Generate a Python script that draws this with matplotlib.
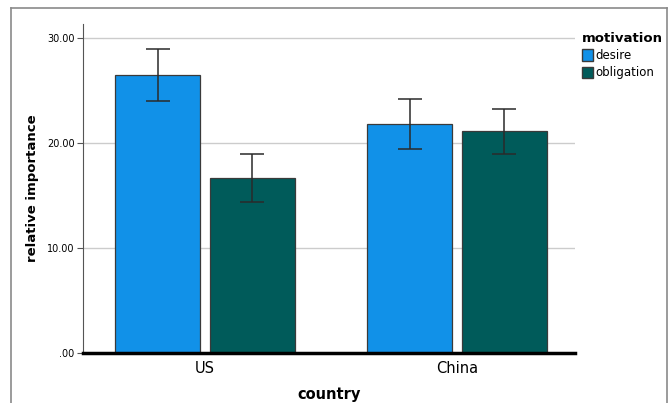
import numpy as np
import matplotlib
matplotlib.use('Agg')
from matplotlib import pyplot as plt
from matplotlib.patches import Patch
from matplotlib.lines import Line2D

plt.rcParams['font.family'] = ['DejaVu Sans']

countries = ['US', 'China']
motivations = ['desire', 'obligation']
means = {
    'desire': [26.5, 21.8],
    'obligation': [16.7, 21.1],
}
ci_low = {
    'desire': [24.0, 19.4],
    'obligation': [14.4, 18.95],
}
ci_high = {
    'desire': [28.95, 24.15],
    'obligation': [19.0, 23.25],
}
colors = {'desire': '#1191e8', 'obligation': '#005b5a'}
yticks = [0, 10, 20, 30]
ytick_labels = ['.00', '10.00', '20.00', '30.00']

fig = plt.figure(figsize=(6.69, 4.03), dpi=100)
ax = fig.add_axes([0.124, 0.124, 0.7355, 0.8164])

# outer frame
W, H = 669, 403
frame = dict(color='#8a8a8a', lw=1.2, transform=fig.transFigure, clip_on=False)
fig.add_artist(Line2D([11 / W, 11 / W], [0, 1 - 8 / H], **frame))
fig.add_artist(Line2D([11 / W, 667 / W], [1 - 8 / H, 1 - 8 / H], **frame))
fig.add_artist(Line2D([667 / W, 667 / W], [0, 1 - 8 / H], **frame))

x = np.arange(len(countries))
offsets = [-0.188, 0.188]
width = 0.335
for m, off in zip(motivations, offsets):
    vals = np.array(means[m])
    err = [vals - np.array(ci_low[m]), np.array(ci_high[m]) - vals]
    ax.bar(x + off, vals, width, color=colors[m], edgecolor='#3a3a3a',
           linewidth=0.9, zorder=2)
    ax.errorbar(x + off, vals, yerr=err, fmt='none', ecolor='#2a2a2a',
                elinewidth=1.1, capsize=8.5, capthick=1.1, zorder=3)

ax.set_xlim(-0.484, 1.468)
ax.set_ylim(0, 31.33)
ax.set_yticks(yticks)
ax.set_yticklabels(ytick_labels, fontsize=7)
ax.set_xticks(x)
ax.set_xticklabels(countries, fontsize=10.5)
ax.tick_params(axis='x', length=0, pad=6)
ax.tick_params(axis='y', length=4, width=0.8, color='#555555', pad=2)
ax.yaxis.grid(True, color='#cccccc', lw=1.0, zorder=0)
ax.set_axisbelow(True)

for s in ['top', 'right']:
    ax.spines[s].set_visible(False)
ax.spines['left'].set_color('#555555')
ax.spines['left'].set_linewidth(0.8)
ax.spines['bottom'].set_color('black')
ax.spines['bottom'].set_linewidth(2.5)
ax.spines['bottom'].set_zorder(4)

ax.set_ylabel('relative importance', fontsize=9.5, fontweight='bold', labelpad=6)
ax.set_xlabel('country', fontsize=10.5, fontweight='bold', labelpad=8)

handles = [Patch(facecolor=colors[m], edgecolor='#3a3a3a', label=m) for m in motivations]
leg = ax.legend(handles=handles, title='motivation', loc='upper left',
                bbox_to_anchor=(1.005, 0.99), frameon=False, fontsize=8.5,
                title_fontproperties={'weight': 'bold', 'size': 9.5},
                handlelength=0.9, handleheight=1.1, handletextpad=0.2,
                labelspacing=0.35, borderaxespad=0)
leg._legend_box.align = 'left'

fig.savefig('out.png', dpi=100)
